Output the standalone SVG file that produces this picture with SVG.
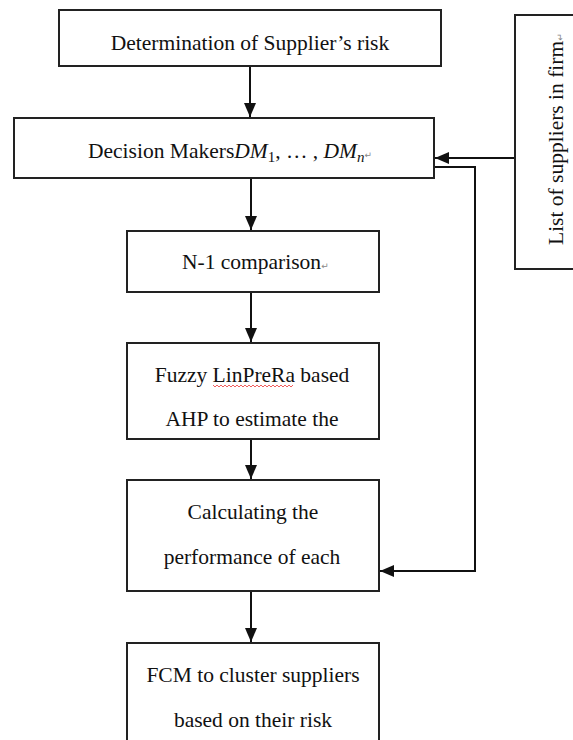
<svg xmlns="http://www.w3.org/2000/svg" width="573" height="740" viewBox="0 0 573 740">
<style>
.box{fill:#fff;stroke:#222;stroke-width:2}
text{font-family:'Liberation Serif',serif;font-size:21.5px;fill:#111}
.m{font-style:italic}
.pm{font-family:'DejaVu Sans',sans-serif;font-size:9px;fill:#888}
.c{fill:none;stroke:#111;stroke-width:2}
</style>
<defs>
<marker id="ah" markerUnits="userSpaceOnUse" markerWidth="14" markerHeight="12" refX="14" refY="6" orient="auto">
<path d="M0,0 L14,6 L0,12 z" fill="#111"/>
</marker>
</defs>
<rect width="573" height="740" fill="#fff"/>
<g id="connectors">
<line class="c" x1="250" y1="66" x2="250" y2="117" marker-end="url(#ah)"/>
<line class="c" x1="251" y1="178" x2="251" y2="230" marker-end="url(#ah)"/>
<line class="c" x1="251" y1="292" x2="251" y2="342" marker-end="url(#ah)"/>
<line class="c" x1="251" y1="439" x2="251" y2="479" marker-end="url(#ah)"/>
<line class="c" x1="251" y1="591" x2="251" y2="642" marker-end="url(#ah)"/>
<line class="c" x1="515" y1="158" x2="435" y2="158" marker-end="url(#ah)"/>
<polyline class="c" points="434,167 475,167 475,571 380,571" marker-end="url(#ah)"/>
</g>
<g id="n1">
<rect class="box" x="59" y="10" width="382" height="56"/>
<text font-family="Liberation Serif" x="250" y="50" text-anchor="middle">Determination  of Supplier’s risk</text>
</g>
<g id="n2">
<rect class="box" x="14" y="118" width="420" height="60"/>
<text font-family="Liberation Serif" x="88" y="158">Decision Makers<tspan class="m">DM</tspan><tspan font-size="15" dy="4">1</tspan><tspan dy="-4">, … , </tspan><tspan class="m">DM</tspan><tspan class="m" font-size="15" dy="4">n</tspan><tspan class="pm" dy="-4">↵</tspan></text>
</g>
<g id="n3">
<rect class="box" x="127" y="231" width="252" height="61"/>
<text font-family="Liberation Serif" x="182" y="269">N-1 comparison<tspan class="pm">↵</tspan></text>
</g>
<g id="n4">
<rect class="box" x="127" y="343" width="252" height="96"/>
<text font-family="Liberation Serif" x="252" y="382" text-anchor="middle">Fuzzy LinPreRa based</text>
<path d="M213,385 l2,2 l2,-2 l2,2 l2,-2 l2,2 l2,-2 l2,2 l2,-2 l2,2 l2,-2 l2,2 l2,-2 l2,2 l2,-2 l2,2 l2,-2 l2,2 l2,-2 l2,2 l2,-2 l2,2 l2,-2 l2,2 l2,-2 l2,2 l2,-2 l2,2 l2,-2 l2,2 l2,-2 l2,2 l2,-2 l2,2 l2,-2 l2,2 l2,-2 l2,2 l2,-2 l2,2 l2,-2" fill="none" stroke="#e33" stroke-width="0.8"/>
<text font-family="Liberation Serif" x="252" y="426" text-anchor="middle">AHP to estimate the</text>
</g>
<g id="n5">
<rect class="box" x="127" y="480" width="252" height="111"/>
<text font-family="Liberation Serif" x="253" y="519" text-anchor="middle">Calculating the</text>
<text font-family="Liberation Serif" x="252" y="564" text-anchor="middle">performance of each</text>
</g>
<g id="n6">
<rect class="box" x="127" y="643" width="252" height="110"/>
<text font-family="Liberation Serif" x="253" y="682" text-anchor="middle">FCM to cluster suppliers</text>
<text font-family="Liberation Serif" x="253" y="727" text-anchor="middle">based on their risk</text>
</g>
<g id="n7">
<rect class="box" x="515" y="15" width="80" height="254"/>
<text font-family="Liberation Serif" transform="translate(563,245) rotate(-90)">List of suppliers in firm<tspan class="pm">↵</tspan></text>
</g>
</svg>
